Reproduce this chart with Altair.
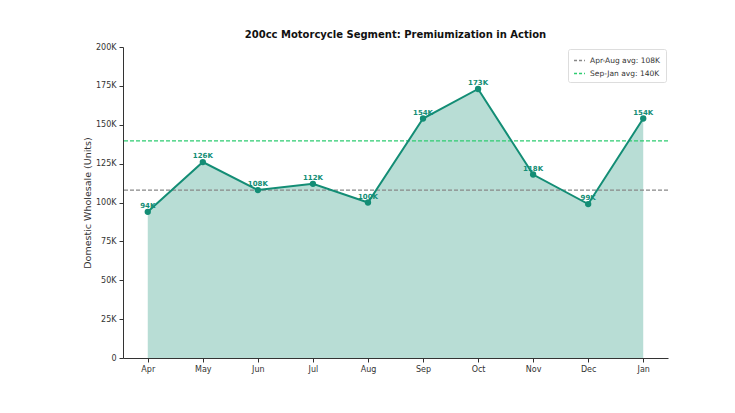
import altair as alt
import pandas as pd

months = ["Apr", "May", "Jun", "Jul", "Aug", "Sep", "Oct", "Nov", "Dec", "Jan"]
units = [94000, 126000, 108000, 112000, 100000, 154000, 173000, 118000, 99000, 154000]
y_ticks = [0, 25000, 50000, 75000, 100000, 125000, 150000, 175000, 200000]

avg1 = sum(units[:5]) / 5
avg2 = sum(units[5:]) / 5
avg_labels = [f"Apr-Aug avg: {avg1/1000:.0f}K", f"Sep-Jan avg: {avg2/1000:.0f}K"]
avg_values = [avg1, avg2]

TEAL = "#138D75"
FONT = "DejaVu Sans"

df = pd.DataFrame({"month": months, "units": units})
df["label"] = [f"{v/1000:.0f}K" for v in units]
avg_df = pd.DataFrame({"name": avg_labels, "units": avg_values})

yscale = alt.Scale(domain=[0, 200000], nice=False, zero=True)
yaxis = alt.Axis(title="Domestic Wholesale (Units)", values=y_ticks,
                 labelOverlap=False, titlePadding=3, tickCount=20,
                 labelExpr="datum.value == 0 ? '0' : format(datum.value/1000, 'd') + 'K'")
x = alt.X("month:O", sort=months,
          scale=alt.Scale(type="point", padding=0.45),
          axis=alt.Axis(title=None, labelAngle=0))
y = alt.Y("units:Q", scale=yscale, axis=yaxis)

base = alt.Chart(df).encode(x=x, y=y)

area = base.mark_area(color=TEAL, opacity=0.3)
line = base.mark_line(color=TEAL, strokeWidth=2)
points = base.mark_point(color=TEAL, filled=True, size=40, opacity=1)
labels = base.mark_text(color=TEAL, fontWeight="bold", fontSize=7, baseline="bottom",
                        dy=-3, font=FONT).encode(text="label:N")

rules = alt.Chart(avg_df).mark_rule(strokeDash=[4, 2], strokeWidth=1.2).encode(
    y=y,
    color=alt.Color("name:N",
                    scale=alt.Scale(domain=avg_labels, range=["#888888", "#2ecc71"]),
                    legend=alt.Legend(title=None, orient="none", legendX=445, legendY=2,
                                      symbolType="stroke", symbolStrokeWidth=1.5,
                                      symbolDash=[3, 2], symbolSize=120,
                                      labelFontSize=7.5, labelFont=FONT, labelColor="#333",
                                      fillColor="white", strokeColor="#dddddd",
                                      padding=5, cornerRadius=2, rowPadding=3)),
)

chart = alt.layer(area, rules, line, points, labels).properties(
    width=545, height=311,
    title=alt.TitleParams("200cc Motorcycle Segment: Premiumization in Action",
                          fontSize=10, fontWeight="bold", font=FONT, offset=3,
                          color="#111"),
    autosize=alt.AutoSizeParams(type="none"),
    padding={"left": 115, "top": 39, "right": 50, "bottom": 45},
).configure_view(stroke=None).configure_axis(
    grid=False, domainColor="#333", tickColor="#333", labelColor="#333",
    labelFont=FONT, titleFont=FONT, labelFontSize=8, titleFontSize=9.5,
    titleFontWeight="normal", titleColor="#333", tickSize=4, labelPadding=3,
)

chart.save("out.html", embed_options={"renderer": "svg", "actions": False})
